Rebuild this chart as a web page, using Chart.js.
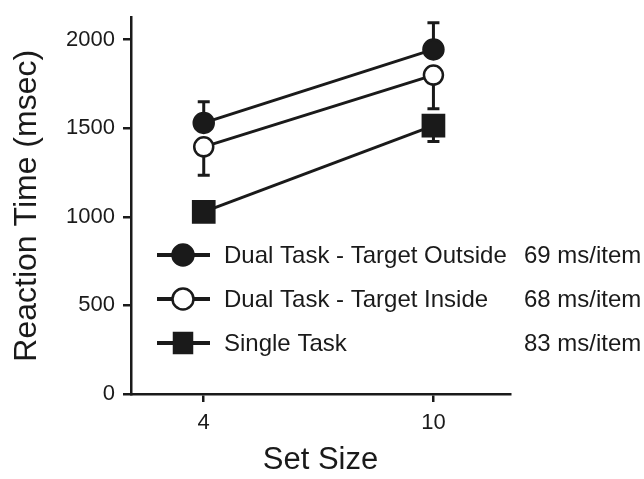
<!DOCTYPE html>
<html>
<head>
<meta charset="utf-8">
<script src="https://cdn.jsdelivr.net/npm/chart.js@4.4.0/dist/chart.umd.min.js"></script>
<style>
  html, body { margin: 0; padding: 0; background: #fff; }
  #wrap { width: 644px; height: 479px; }
</style>
</head>
<body>
<div id="wrap"><canvas id="chart" width="644" height="479"></canvas></div>
<script>
// ---- data ----
const setSizes = [4, 10];
const xTicks = [4, 10];
const yTicks = [0, 500, 1000, 1500, 2000];

const seriesNames = ['Dual Task - Target Outside', 'Dual Task - Target Inside', 'Single Task'];
const slopeLabels = ['69 ms/item', '68 ms/item', '83 ms/item'];

const outsideRT = [1530, 1945];
const insideRT = [1395, 1800];
const singleRT = [1028, 1515];

// error bars (one-sided in the figure)
const outsideErr = [120, 150];   // up
const insideErr = [160, 190];    // down
const singleErr = [30, 90];      // down

const INK = '#1a1a1a';
const FONT = '"Liberation Sans", Arial, Helvetica, sans-serif';

const toPoints = (vals) => setSizes.map((s, i) => ({ x: s, y: vals[i] }));

const series = [
  { name: seriesNames[0], slope: slopeLabels[0], vals: outsideRT, err: outsideErr, dir: 1,
    style: 'circle', radius: 10, fill: INK },
  { name: seriesNames[1], slope: slopeLabels[1], vals: insideRT, err: insideErr, dir: -1,
    style: 'circle', radius: 9.5, fill: '#fff' },
  { name: seriesNames[2], slope: slopeLabels[2], vals: singleRT, err: singleErr, dir: -1,
    style: 'rect', radius: 15, fill: INK }
];

// error bars drawn behind the markers
const errorBars = {
  id: 'errorBars',
  beforeDatasetsDraw(chart) {
    const { ctx, scales: { x, y } } = chart;
    ctx.save();
    ctx.strokeStyle = INK;
    ctx.lineWidth = 3;
    series.forEach(s => {
      s.vals.forEach((v, i) => {
        const px = x.getPixelForValue(setSizes[i]);
        const p0 = y.getPixelForValue(v);
        const p1 = y.getPixelForValue(v + s.dir * s.err[i]);
        ctx.beginPath();
        ctx.moveTo(px, p0);
        ctx.lineTo(px, p1);
        ctx.moveTo(px - 6, p1);
        ctx.lineTo(px + 6, p1);
        ctx.stroke();
      });
    });
    ctx.restore();
  }
};

// legend with slope column, inside the plot
const slopeLegend = {
  id: 'slopeLegend',
  afterDraw(chart) {
    const { ctx } = chart;
    const rows = [255, 299, 343];
    ctx.save();
    ctx.font = '24px ' + FONT;
    ctx.textBaseline = 'middle';
    series.forEach((s, i) => {
      const yy = rows[i];
      ctx.strokeStyle = INK;
      ctx.lineWidth = 4;
      ctx.beginPath();
      ctx.moveTo(157, yy);
      ctx.lineTo(210, yy);
      ctx.stroke();
      ctx.lineWidth = 2.5;
      ctx.fillStyle = s.fill;
      ctx.beginPath();
      if (s.style === 'rect') {
        ctx.rect(183 - 9, yy - 10, 18, 20);
      } else {
        ctx.arc(183, yy, 10.5, 0, Math.PI * 2);
      }
      ctx.fill();
      ctx.stroke();
      ctx.fillStyle = INK;
      ctx.fillText(s.name, 224, yy + 1);
      ctx.fillText(s.slope, 524, yy + 1);
    });
    ctx.restore();
  }
};

new Chart(document.getElementById('chart'), {
  type: 'line',
  data: {
    datasets: series.map(s => ({
      label: s.name,
      data: toPoints(s.vals),
      borderColor: INK,
      borderWidth: 3,
      pointStyle: s.style,
      pointRadius: s.radius,
      pointBackgroundColor: s.fill,
      pointBorderColor: INK,
      pointBorderWidth: 2.5,
      fill: false,
      tension: 0
    }))
  },
  options: {
    responsive: false,
    animation: false,
    layout: { padding: { top: 9, right: 134, bottom: 0, left: 0 } },
    plugins: {
      legend: { display: false },
      tooltip: { enabled: false }
    },
    scales: {
      x: {
        type: 'linear',
        min: 2.1,
        max: 12,
        afterBuildTicks: (s) => { s.ticks = xTicks.map(v => ({ value: v })); },
        afterFit: (s) => { s.height = 85; s.paddingLeft = 0; s.paddingRight = 0; },
        grid: { drawOnChartArea: false, drawTicks: true, tickLength: 8, color: INK, lineWidth: 2.5 },
        border: { display: true, color: INK, width: 2.5 },
        ticks: { color: INK, font: { family: FONT, size: 22 }, padding: 8, maxRotation: 0,
                 callback: (v) => String(v) },
        title: { display: true, text: 'Set Size', color: INK, font: { family: FONT, size: 31 }, padding: 0 }
      },
      y: {
        min: 0,
        max: 2125,
        afterBuildTicks: (s) => { s.ticks = yTicks.map(v => ({ value: v })); },
        afterFit: (s) => { s.width = 131; s.paddingTop = 0; s.paddingBottom = 0; },
        grid: { drawOnChartArea: false, drawTicks: true, tickLength: 8, color: INK, lineWidth: 2.5 },
        border: { display: true, color: INK, width: 2.5 },
        ticks: { color: INK, font: { family: FONT, size: 22 }, padding: 8,
                 callback: (v) => String(v) },
        title: { display: true, text: 'Reaction Time (msec)', color: INK, font: { family: FONT, size: 32 }, padding: { top: 8, bottom: 0 } }
      }
    }
  },
  plugins: [errorBars, slopeLegend]
});
</script>
</body>
</html>
